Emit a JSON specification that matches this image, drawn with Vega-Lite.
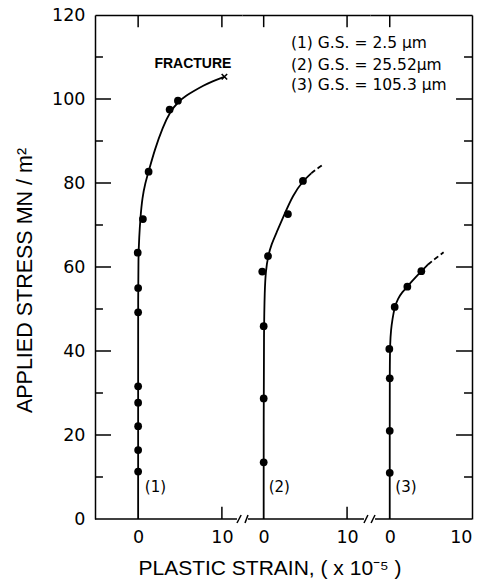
{
  "$schema": "https://vega.github.io/schema/vega-lite/v6.json",
  "background": "white",
  "padding": {"left": 14, "top": 6, "right": 5, "bottom": 5},
  "bounds": "flush",
  "spacing": 0,
  "datasets": {
    "pts": [
      {"curve": 1, "x": 0, "y": 11.3}, {"curve": 1, "x": 0, "y": 16.4}, {"curve": 1, "x": 0, "y": 22.1},
      {"curve": 1, "x": 0, "y": 27.7}, {"curve": 1, "x": 0, "y": 31.6}, {"curve": 1, "x": 0, "y": 49.2},
      {"curve": 1, "x": 0, "y": 55.0}, {"curve": 1, "x": -0.05, "y": 63.4}, {"curve": 1, "x": 0.57, "y": 71.4},
      {"curve": 1, "x": 1.25, "y": 82.7}, {"curve": 1, "x": 3.76, "y": 97.5}, {"curve": 1, "x": 4.75, "y": 99.6},
      {"curve": 2, "x": 0, "y": 13.5}, {"curve": 2, "x": 0, "y": 28.7}, {"curve": 2, "x": 0, "y": 45.9},
      {"curve": 2, "x": -0.17, "y": 58.9}, {"curve": 2, "x": 0.52, "y": 62.6}, {"curve": 2, "x": 2.91, "y": 72.6},
      {"curve": 2, "x": 4.71, "y": 80.5},
      {"curve": 3, "x": 0, "y": 11.0}, {"curve": 3, "x": 0, "y": 21.0}, {"curve": 3, "x": 0, "y": 33.5},
      {"curve": 3, "x": -0.05, "y": 40.5}, {"curve": 3, "x": 0.6, "y": 50.5}, {"curve": 3, "x": 2.14, "y": 55.3},
      {"curve": 3, "x": 3.84, "y": 59.0}
    ],
    "curves": [
      {"curve": 1, "part": "solid", "x": 0, "y": 0}, {"curve": 1, "part": "solid", "x": 0, "y": 30},
      {"curve": 1, "part": "solid", "x": 0, "y": 55}, {"curve": 1, "part": "solid", "x": 0.03, "y": 62},
      {"curve": 1, "part": "solid", "x": 0.12, "y": 67}, {"curve": 1, "part": "solid", "x": 0.28, "y": 72},
      {"curve": 1, "part": "solid", "x": 0.5, "y": 76.5}, {"curve": 1, "part": "solid", "x": 0.85, "y": 80},
      {"curve": 1, "part": "solid", "x": 1.25, "y": 82.7}, {"curve": 1, "part": "solid", "x": 1.97, "y": 87.9},
      {"curve": 1, "part": "solid", "x": 2.96, "y": 93.4}, {"curve": 1, "part": "solid", "x": 3.8, "y": 96.9},
      {"curve": 1, "part": "solid", "x": 4.75, "y": 99.3}, {"curve": 1, "part": "solid", "x": 5.8, "y": 100.9},
      {"curve": 1, "part": "solid", "x": 6.74, "y": 102.0}, {"curve": 1, "part": "solid", "x": 7.8, "y": 103.2},
      {"curve": 1, "part": "solid", "x": 8.72, "y": 104.1}, {"curve": 1, "part": "solid", "x": 10.3, "y": 105.3},
      {"curve": 2, "part": "solid", "x": 0, "y": 0}, {"curve": 2, "part": "solid", "x": 0, "y": 25},
      {"curve": 2, "part": "solid", "x": 0.03, "y": 45}, {"curve": 2, "part": "solid", "x": 0.12, "y": 54.5},
      {"curve": 2, "part": "solid", "x": 0.25, "y": 59}, {"curve": 2, "part": "solid", "x": 0.52, "y": 62.6},
      {"curve": 2, "part": "solid", "x": 0.95, "y": 65.5}, {"curve": 2, "part": "solid", "x": 1.5, "y": 68},
      {"curve": 2, "part": "solid", "x": 2.5, "y": 72.6}, {"curve": 2, "part": "solid", "x": 3.5, "y": 77.1},
      {"curve": 2, "part": "solid", "x": 4.71, "y": 80.5}, {"curve": 2, "part": "solid", "x": 5.7, "y": 82.3},
      {"curve": 2, "part": "dashed", "x": 5.7, "y": 82.3}, {"curve": 2, "part": "dashed", "x": 6.4, "y": 83.4},
      {"curve": 2, "part": "dashed", "x": 7.2, "y": 84.5},
      {"curve": 3, "part": "solid", "x": 0, "y": 0}, {"curve": 3, "part": "solid", "x": 0, "y": 20},
      {"curve": 3, "part": "solid", "x": 0, "y": 36.7}, {"curve": 3, "part": "solid", "x": 0.05, "y": 42},
      {"curve": 3, "part": "solid", "x": 0.15, "y": 45}, {"curve": 3, "part": "solid", "x": 0.32, "y": 47.5},
      {"curve": 3, "part": "solid", "x": 0.6, "y": 50.5}, {"curve": 3, "part": "solid", "x": 1.0, "y": 52.5},
      {"curve": 3, "part": "solid", "x": 1.5, "y": 54}, {"curve": 3, "part": "solid", "x": 2.14, "y": 55.3},
      {"curve": 3, "part": "solid", "x": 3.0, "y": 57.3}, {"curve": 3, "part": "solid", "x": 3.84, "y": 59.0},
      {"curve": 3, "part": "solid", "x": 4.65, "y": 60.6},
      {"curve": 3, "part": "dashed", "x": 4.65, "y": 60.6}, {"curve": 3, "part": "dashed", "x": 5.6, "y": 62.1},
      {"curve": 3, "part": "dashed", "x": 6.55, "y": 63.5}
    ],
    "frame": [
      {"panel": 1, "x": -5.15, "x2": 11.8, "y": 0, "y2": 0},
      {"panel": 1, "x": 11.8, "x2": 12.3, "y": -0.95, "y2": 0.95},
      {"panel": 1, "x": -5.15, "x2": -4.2, "y": 10, "y2": 10},
      {"panel": 1, "x": -5.15, "x2": -3.24, "y": 20, "y2": 20},
      {"panel": 1, "x": -5.15, "x2": -4.2, "y": 30, "y2": 30},
      {"panel": 1, "x": -5.15, "x2": -3.24, "y": 40, "y2": 40},
      {"panel": 1, "x": -5.15, "x2": -4.2, "y": 50, "y2": 50},
      {"panel": 1, "x": -5.15, "x2": -3.24, "y": 60, "y2": 60},
      {"panel": 1, "x": -5.15, "x2": -4.2, "y": 70, "y2": 70},
      {"panel": 1, "x": -5.15, "x2": -3.24, "y": 80, "y2": 80},
      {"panel": 1, "x": -5.15, "x2": -4.2, "y": 90, "y2": 90},
      {"panel": 1, "x": -5.15, "x2": -3.24, "y": 100, "y2": 100},
      {"panel": 1, "x": -5.15, "x2": -4.2, "y": 110, "y2": 110},
      {"panel": 1, "x": 0, "x2": 0, "y": 120, "y2": 117.1},
      {"panel": 1, "x": 10, "x2": 10, "y": 120, "y2": 117.1},
      {"panel": 1, "x": 10, "x2": 10, "y": 0, "y2": 2.9},
      {"panel": 2, "x": -2.24, "x2": -1.88, "y": -0.95, "y2": 0.95},
      {"panel": 2, "x": -1.88, "x2": 12.03, "y": 0, "y2": 0},
      {"panel": 2, "x": 12.03, "x2": 12.5, "y": -0.95, "y2": 0.95},
      {"panel": 2, "x": 0, "x2": 0, "y": 120, "y2": 117.1},
      {"panel": 2, "x": 10, "x2": 10, "y": 120, "y2": 117.1},
      {"panel": 2, "x": 10, "x2": 10, "y": 0, "y2": 2.9},
      {"panel": 3, "x": -2.27, "x2": -1.79, "y": -0.95, "y2": 0.95},
      {"panel": 3, "x": -1.79, "x2": 10, "y": 0, "y2": 0},
      {"panel": 3, "x": 10, "x2": 9.03, "y": 10, "y2": 10},
      {"panel": 3, "x": 10, "x2": 8.06, "y": 20, "y2": 20},
      {"panel": 3, "x": 10, "x2": 9.03, "y": 30, "y2": 30},
      {"panel": 3, "x": 10, "x2": 8.06, "y": 40, "y2": 40},
      {"panel": 3, "x": 10, "x2": 9.03, "y": 50, "y2": 50},
      {"panel": 3, "x": 10, "x2": 8.06, "y": 60, "y2": 60},
      {"panel": 3, "x": 10, "x2": 9.03, "y": 70, "y2": 70},
      {"panel": 3, "x": 10, "x2": 8.06, "y": 80, "y2": 80},
      {"panel": 3, "x": 10, "x2": 9.03, "y": 90, "y2": 90},
      {"panel": 3, "x": 10, "x2": 8.06, "y": 100, "y2": 100},
      {"panel": 3, "x": 10, "x2": 9.03, "y": 110, "y2": 110},
      {"panel": 3, "x": 0, "x2": 0, "y": 120, "y2": 117.1}
    ],
    "notes": [
      {"panel": 1, "kind": "curve", "x": 0.8, "y": 7.6, "text": "(1)"},
      {"panel": 2, "kind": "curve", "x": 0.6, "y": 7.6, "text": "(2)"},
      {"panel": 3, "kind": "curve", "x": 0.68, "y": 7.6, "text": "(3)"},
      {"panel": 1, "kind": "fracture", "x": 6.54, "y": 108.3, "text": "FRACTURE"},
      {"panel": 2, "kind": "legend", "x": 3.27, "y": 113.3, "text": "(1)  G.S. = 2.5 μm"},
      {"panel": 2, "kind": "legend", "x": 3.27, "y": 108.1, "text": "(2)  G.S. = 25.52μm"},
      {"panel": 2, "kind": "legend", "x": 3.27, "y": 103.3, "text": "(3)  G.S. = 105.3 μm"}
    ],
    "fracture": [{"x": 10.3, "y": 105.3}]
  },
  "hconcat": [
    {
      "width": 147,
      "height": 504,
      "resolve": {"axis": {"x": "independent"}},
      "encoding": {
        "y": {
          "field": "y", "type": "quantitative",
          "scale": {"domain": [0, 120], "nice": false, "zero": false},
          "axis": {
            "orient": "left",
            "values": [0, 20, 40, 60, 80, 100, 120],
            "ticks": false,
            "labelPadding": 10,
            "title": "APPLIED STRESS MN / m²",
            "titleFontSize": 21.5,
            "titlePadding": 15,
            "titleY": 265
          }
        }
      },
      "layer": [
        {
          "data": {"name": "frame"},
          "transform": [{"filter": "datum.panel == 1"}],
          "mark": {"type": "rule", "color": "black", "strokeWidth": 1.5},
          "encoding": {
            "x": {
              "field": "x", "type": "quantitative",
              "scale": {"domain": [-5.15, 12.4], "nice": false, "zero": false},
              "axis": {
                "orient": "bottom", "values": [0, 10], "domain": false, "ticks": false,
                "labelPadding": 9,
                "title": "PLASTIC STRAIN, ( x 10⁻⁵ )",
                "titleFontSize": 21,
                "titleX": 43, "titleAlign": "left", "titleAnchor": "start", "titleY": 55, "titleBaseline": "alphabetic"
              }
            },
            "x2": {"field": "x2"},
            "y2": {"field": "y2"}
          }
        },
        {
          "data": {"name": "curves"},
          "transform": [{"filter": "datum.curve == 1 && datum.part == 'solid'"}],
          "mark": {"type": "line", "color": "black", "strokeWidth": 1.8, "interpolate": "basis"},
          "encoding": {
            "x": {
              "field": "x", "type": "quantitative",
              "scale": {"domain": [-5.15, 12.4], "nice": false, "zero": false},
              "axis": {"orient": "top", "values": [0, 10], "domain": true, "ticks": false, "labels": false, "title": null}
            },
            "order": {"field": "y", "type": "quantitative"}
          }
        },
        {
          "data": {"name": "pts"},
          "transform": [{"filter": "datum.curve == 1"}],
          "mark": {"type": "point", "filled": true, "color": "black", "size": 60, "opacity": 1},
          "encoding": {
            "x": {"field": "x", "type": "quantitative", "scale": {"domain": [-5.15, 12.4], "nice": false, "zero": false}, "axis": null}
          }
        },
        {
          "data": {"name": "fracture"},
          "mark": {"type": "point", "shape": "M-1,-1L1,1M-1,1L1,-1", "filled": false, "color": "black", "strokeWidth": 1.6, "size": 30, "opacity": 1},
          "encoding": {
            "x": {"field": "x", "type": "quantitative", "scale": {"domain": [-5.15, 12.4], "nice": false, "zero": false}, "axis": null}
          }
        },
        {
          "data": {"name": "notes"},
          "transform": [{"filter": "datum.panel == 1 && datum.kind == 'fracture'"}],
          "mark": {"type": "text", "font": "Liberation Sans", "fontSize": 14, "fontWeight": "bold", "align": "center", "baseline": "middle", "color": "black"},
          "encoding": {
            "x": {"field": "x", "type": "quantitative", "scale": {"domain": [-5.15, 12.4], "nice": false, "zero": false}, "axis": null},
            "text": {"field": "text"}
          }
        },
        {
          "data": {"name": "notes"},
          "transform": [{"filter": "datum.panel == 1 && datum.kind == 'curve'"}],
          "mark": {"type": "text", "font": "DejaVu Sans", "fontSize": 15, "align": "left", "baseline": "middle", "color": "black"},
          "encoding": {
            "x": {"field": "x", "type": "quantitative", "scale": {"domain": [-5.15, 12.4], "nice": false, "zero": false}, "axis": null},
            "text": {"field": "text"}
          }
        }
      ]
    },
    {
      "width": 128,
      "height": 504,
      "resolve": {"axis": {"x": "independent"}},
      "encoding": {
        "y": {"field": "y", "type": "quantitative", "scale": {"domain": [0, 120], "nice": false, "zero": false}, "axis": null}
      },
      "layer": [
        {
          "data": {"name": "frame"},
          "transform": [{"filter": "datum.panel == 2"}],
          "mark": {"type": "rule", "color": "black", "strokeWidth": 1.5},
          "encoding": {
            "x": {
              "field": "x", "type": "quantitative",
              "scale": {"domain": [-2.6, 12.75], "nice": false, "zero": false},
              "axis": {"orient": "bottom", "values": [0, 10], "domain": false, "ticks": false, "labelPadding": 9, "title": null}
            },
            "x2": {"field": "x2"},
            "y2": {"field": "y2"}
          }
        },
        {
          "data": {"name": "curves"},
          "transform": [{"filter": "datum.curve == 2 && datum.part == 'solid'"}],
          "mark": {"type": "line", "color": "black", "strokeWidth": 1.8, "interpolate": "basis"},
          "encoding": {
            "x": {
              "field": "x", "type": "quantitative",
              "scale": {"domain": [-2.6, 12.75], "nice": false, "zero": false},
              "axis": {"orient": "top", "values": [0, 10], "domain": true, "ticks": false, "labels": false, "title": null}
            },
            "order": {"field": "y", "type": "quantitative"}
          }
        },
        {
          "data": {"name": "curves"},
          "transform": [{"filter": "datum.curve == 2 && datum.part == 'dashed'"}],
          "mark": {"type": "line", "color": "black", "strokeWidth": 1.8, "strokeDash": [5, 3], "interpolate": "basis"},
          "encoding": {
            "x": {"field": "x", "type": "quantitative", "scale": {"domain": [-2.6, 12.75], "nice": false, "zero": false}, "axis": null},
            "order": {"field": "y", "type": "quantitative"}
          }
        },
        {
          "data": {"name": "pts"},
          "transform": [{"filter": "datum.curve == 2"}],
          "mark": {"type": "point", "filled": true, "color": "black", "size": 60, "opacity": 1},
          "encoding": {
            "x": {"field": "x", "type": "quantitative", "scale": {"domain": [-2.6, 12.75], "nice": false, "zero": false}, "axis": null}
          }
        },
        {
          "data": {"name": "notes"},
          "transform": [{"filter": "datum.panel == 2 && datum.kind == 'curve'"}],
          "mark": {"type": "text", "font": "DejaVu Sans", "fontSize": 15, "align": "left", "baseline": "middle", "color": "black"},
          "encoding": {
            "x": {"field": "x", "type": "quantitative", "scale": {"domain": [-2.6, 12.75], "nice": false, "zero": false}, "axis": null},
            "text": {"field": "text"}
          }
        },
        {
          "data": {"name": "notes"},
          "transform": [{"filter": "datum.panel == 2 && datum.kind == 'legend'"}],
          "mark": {"type": "text", "font": "DejaVu Sans", "fontSize": 15.5, "align": "left", "baseline": "middle", "color": "black"},
          "encoding": {
            "x": {"field": "x", "type": "quantitative", "scale": {"domain": [-2.6, 12.75], "nice": false, "zero": false}, "axis": null},
            "text": {"field": "text"}
          }
        }
      ]
    },
    {
      "width": 102,
      "height": 504,
      "resolve": {"axis": {"x": "independent"}},
      "encoding": {
        "y": {
          "field": "y", "type": "quantitative",
          "scale": {"domain": [0, 120], "nice": false, "zero": false},
          "axis": {"orient": "right", "labels": false, "ticks": false, "title": null}
        }
      },
      "layer": [
        {
          "data": {"name": "frame"},
          "transform": [{"filter": "datum.panel == 3"}],
          "mark": {"type": "rule", "color": "black", "strokeWidth": 1.5},
          "encoding": {
            "x": {
              "field": "x", "type": "quantitative",
              "scale": {"domain": [-2.4, 10], "nice": false, "zero": false},
              "axis": {"orient": "bottom", "values": [0, 10], "domain": false, "ticks": false, "labelPadding": 9, "title": null}
            },
            "x2": {"field": "x2"},
            "y2": {"field": "y2"}
          }
        },
        {
          "data": {"name": "curves"},
          "transform": [{"filter": "datum.curve == 3 && datum.part == 'solid'"}],
          "mark": {"type": "line", "color": "black", "strokeWidth": 1.8, "interpolate": "basis"},
          "encoding": {
            "x": {
              "field": "x", "type": "quantitative",
              "scale": {"domain": [-2.4, 10], "nice": false, "zero": false},
              "axis": {"orient": "top", "values": [0], "domain": true, "ticks": false, "labels": false, "title": null}
            },
            "order": {"field": "y", "type": "quantitative"}
          }
        },
        {
          "data": {"name": "curves"},
          "transform": [{"filter": "datum.curve == 3 && datum.part == 'dashed'"}],
          "mark": {"type": "line", "color": "black", "strokeWidth": 1.8, "strokeDash": [5, 3], "interpolate": "basis"},
          "encoding": {
            "x": {"field": "x", "type": "quantitative", "scale": {"domain": [-2.4, 10], "nice": false, "zero": false}, "axis": null},
            "order": {"field": "y", "type": "quantitative"}
          }
        },
        {
          "data": {"name": "pts"},
          "transform": [{"filter": "datum.curve == 3"}],
          "mark": {"type": "point", "filled": true, "color": "black", "size": 60, "opacity": 1},
          "encoding": {
            "x": {"field": "x", "type": "quantitative", "scale": {"domain": [-2.4, 10], "nice": false, "zero": false}, "axis": null}
          }
        },
        {
          "data": {"name": "notes"},
          "transform": [{"filter": "datum.panel == 3 && datum.kind == 'curve'"}],
          "mark": {"type": "text", "font": "DejaVu Sans", "fontSize": 15, "align": "left", "baseline": "middle", "color": "black"},
          "encoding": {
            "x": {"field": "x", "type": "quantitative", "scale": {"domain": [-2.4, 10], "nice": false, "zero": false}, "axis": null},
            "text": {"field": "text"}
          }
        }
      ]
    }
  ],
  "config": {
    "view": {"stroke": null},
    "font": "Liberation Sans",
    "axis": {
      "grid": false,
      "labelFont": "DejaVu Sans",
      "labelFontSize": 17.5,
      "labelColor": "black",
      "domainColor": "black",
      "domainWidth": 1.5,
      "tickColor": "black",
      "tickWidth": 1.5,
      "titleFont": "Liberation Sans",
      "titleFontSize": 20.5,
      "titleFontWeight": "normal",
      "titleColor": "black"
    }
  }
}
